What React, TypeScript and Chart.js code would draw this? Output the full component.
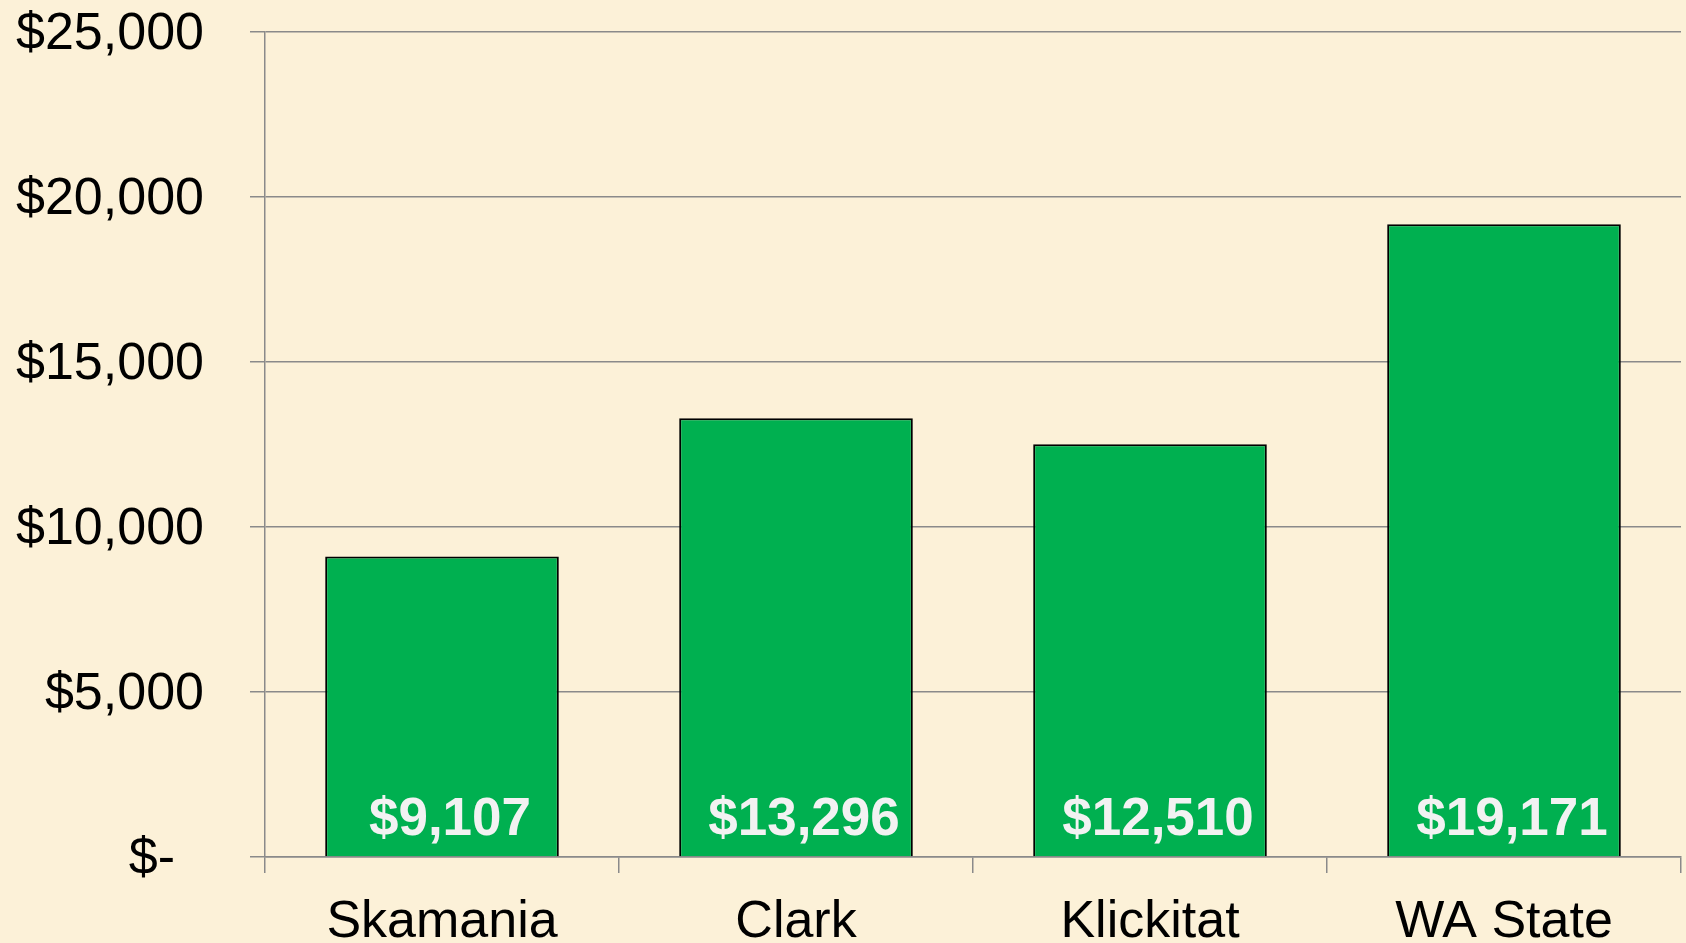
import React, { useEffect, useRef } from "react";
import { Chart, registerables } from "chart.js";

Chart.register(...registerables);

const categories = ["Skamania", "Clark", "Klickitat", "WA State"];
const values = [9107, 13296, 12510, 19171];
const yTicks = [0, 5000, 10000, 15000, 20000, 25000];

const FONT = "'Liberation Sans', Arial, sans-serif";

const fmt = (v: number) => "$" + v.toLocaleString("en-US");

const barLabels = {
  id: "barLabels",
  afterDatasetsDraw(chart: any) {
    const ctx = chart.ctx;
    const meta = chart.getDatasetMeta(0);
    const y0 = chart.scales.y.getPixelForValue(0);
    ctx.save();
    ctx.font = `bold 53px ${FONT}`;
    ctx.fillStyle = "#F2F2F2";
    ctx.textAlign = "center";
    ctx.textBaseline = "alphabetic";
    meta.data.forEach((bar: any, i: number) => {
      ctx.fillText(fmt(values[i]), bar.x + 8, y0 - 22);
    });
    ctx.restore();
  },
};

export default function App() {
  const ref = useRef<HTMLCanvasElement | null>(null);
  useEffect(() => {
    if (!ref.current) return;
    const chart = new Chart(ref.current, {
      type: "bar",
      data: {
        labels: categories,
        datasets: [
          {
            data: values,
            backgroundColor: "#00B050",
            borderColor: "#000000",
            borderWidth: 2,
            categoryPercentage: 1,
            barPercentage: 0.66,
          },
        ],
      },
      options: {
        animation: false,
        responsive: true,
        maintainAspectRatio: false,
        layout: { padding: { left: 0, right: 5, top: 32, bottom: 0 } },
        plugins: { legend: { display: false }, tooltip: { enabled: false } },
        scales: {
          x: {
            grid: {
              display: true,
              drawOnChartArea: false,
              color: "#8a8a8a",
              lineWidth: 1.5,
              tickLength: 16,
              offset: true,
            },
            border: { display: true, color: "#8a8a8a", width: 1.5 },
            ticks: {
              color: "#000000",
              font: { family: FONT, size: 52 },
              padding: 18,
              maxRotation: 0,
            },
            afterFit: (scale: any) => {
              scale.height = 86;
              scale.paddingLeft = 0;
              scale.paddingRight = 0;
            },
          },
          y: {
            min: 0,
            max: 25000,
            afterBuildTicks: (scale: any) => {
              scale.ticks = yTicks.map((v) => ({ value: v }));
            },
            grid: {
              color: "#8a8a8a",
              lineWidth: 1.5,
              tickLength: 15,
            },
            border: { display: true, color: "#8a8a8a", width: 1.5 },
            ticks: {
              color: "#000000",
              font: { family: FONT, size: 52 },
              padding: 46,
              labelOffset: 3,
              callback: (v: any) => (Number(v) === 0 ? "$-  " : fmt(Number(v))),
            },
            afterFit: (scale: any) => {
              scale.width = 265;
              scale.paddingTop = 0;
              scale.paddingBottom = 0;
            },
          },
        },
      },
      plugins: [barLabels],
    });
    return () => chart.destroy();
  }, []);
  return (
    <div
      style={{
        position: "fixed",
        left: 0,
        top: 0,
        width: 1686,
        height: 943,
        background: "#FCF1D8",
      }}
    >
      <canvas ref={ref} />
    </div>
  );
}
